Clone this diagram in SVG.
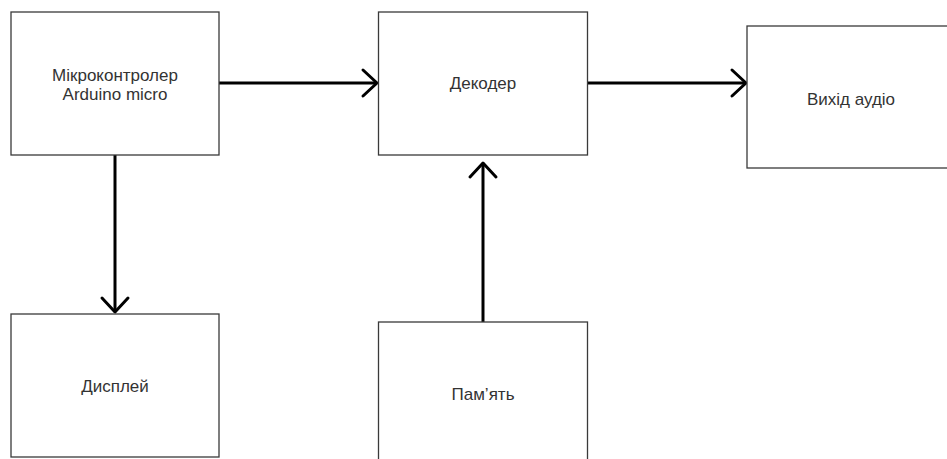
<svg xmlns="http://www.w3.org/2000/svg" width="947" height="459" viewBox="0 0 947 459">
<defs>
<style>
.box{fill:#ffffff;stroke:#3a3a3a;stroke-width:1.3}
.lbl{font-family:"Liberation Sans",Arial,sans-serif;font-size:17px;fill:#333333;text-anchor:middle}
.edge{fill:none;stroke:#000000;stroke-width:3}
</style>
<marker id="arr" markerUnits="userSpaceOnUse" markerWidth="40" markerHeight="40" viewBox="-20 -20 40 40" refX="0" refY="0" orient="auto">
<path d="M-14,-13 L0,0 L-14,13" fill="none" stroke="#000000" stroke-width="3" stroke-linecap="round" stroke-linejoin="round"/>
</marker>
</defs>
<rect width="947" height="459" fill="#ffffff"/>
<g id="connectors">
<line class="edge" x1="219" y1="83" x2="377" y2="83" marker-end="url(#arr)"/>
<line class="edge" x1="588" y1="83" x2="746" y2="83" marker-end="url(#arr)"/>
<line class="edge" x1="115" y1="155" x2="115" y2="312" marker-end="url(#arr)"/>
<line class="edge" x1="483" y1="322" x2="483" y2="163" marker-end="url(#arr)"/>
</g>
<g id="node-mcu">
<rect class="box" x="11" y="12" width="208" height="143"/>
<text class="lbl" x="115" y="80.5">Мікроконтролер</text>
<text class="lbl" x="115" y="100">Arduino micro</text>
</g>
<g id="node-decoder">
<rect class="box" x="378.5" y="12" width="209" height="143"/>
<text class="lbl" x="483" y="88.5">Декодер</text>
</g>
<g id="node-audio">
<rect class="box" x="747" y="26" width="208" height="142"/>
<text class="lbl" x="851" y="104.5">Вихід аудіо</text>
</g>
<g id="node-display">
<rect class="box" x="11" y="314" width="208" height="143"/>
<text class="lbl" x="115" y="391.5">Дисплей</text>
</g>
<g id="node-memory">
<rect class="box" x="378.5" y="322" width="209" height="143"/>
<text class="lbl" x="483" y="399.5">Пам’ять</text>
</g>
</svg>
